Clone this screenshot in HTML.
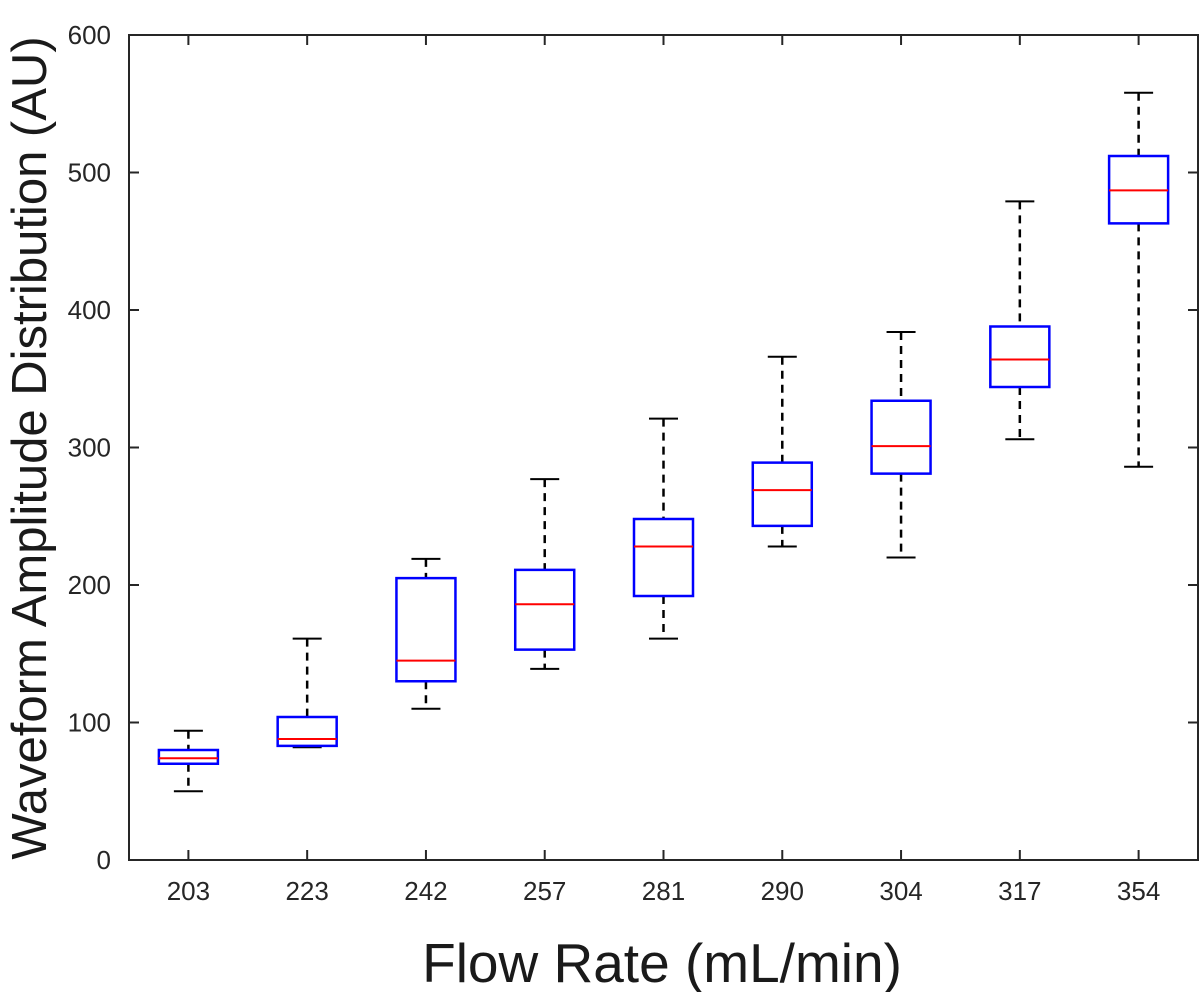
<!DOCTYPE html>
<html><head><meta charset="utf-8"><style>
html,body{margin:0;padding:0;background:#fff;width:1200px;height:992px;overflow:hidden}
text{font-family:"Liberation Sans",Arial,sans-serif}
</style></head><body>
<svg id="chart" width="1200" height="992" viewBox="0 0 1200 992" xmlns="http://www.w3.org/2000/svg">
<rect x="0" y="0" width="1200" height="992" fill="#fff"/>
<g id="plot"></g>
<text x="662" y="982" font-size="55" text-anchor="middle" fill="#1a1a1a">Flow Rate (mL/min)</text>
<text transform="translate(46,448) rotate(-90)" font-size="49" text-anchor="middle" fill="#1a1a1a">Waveform Amplitude Distribution (AU)</text>
</svg>
<script>
const categories = ["203","223","242","257","281","290","304","317","354"];
const lowerWhisker = [50,82,110,139,161,228,220,306,286];
const q1Values = [70,83,130,153,192,243,281,344,463];
const medianValues = [74,88,145,186,228,269,301,364,487];
const q3Values = [80,104,205,211,248,289,334,388,512];
const upperWhisker = [94,161,219,277,321,366,384,479,558];
const yTicks = [0,100,200,300,400,500,600];

const L=129,R=1198,T=35,B=860;
const yMax=600;
function yScale(v){return B-(v/yMax)*(B-T);}
function xScale(i){return L+(i+0.5)*(R-L)/categories.length;}
const NS="http://www.w3.org/2000/svg";
const g=document.getElementById('plot');
function mk(tag,attrs){const e=document.createElementNS(NS,tag);for(const k in attrs)e.setAttribute(k,attrs[k]);g.appendChild(e);return e;}

const frame=mk('rect',{x:L,y:T,width:R-L,height:B-T,fill:'none',stroke:'#262626','stroke-width':2});



yTicks.forEach(v=>{
  const y=yScale(v);
  const t=mk('line',{x1:L,x2:L+10,y1:y,y2:y,stroke:'#262626','stroke-width':2});
  
  
  const tr=mk('line',{x1:R-10,x2:R,y1:y,y2:y,stroke:'#262626','stroke-width':2});
  
  
  const lb=mk('text',{x:L-18,y:y+9,'font-size':26,'text-anchor':'end',fill:'#262626'});
  lb.textContent=v;
  
  
});

const hw=29.5, cw=14.5;
categories.forEach((c,i)=>{
  const x=xScale(i);
  const tb=mk('line',{x1:x,x2:x,y1:B,y2:B-10,stroke:'#262626','stroke-width':2});
  
  
  const tt=mk('line',{x1:x,x2:x,y1:T,y2:T+10,stroke:'#262626','stroke-width':2});
  
  
  const lb=mk('text',{x:x,y:B+40,'font-size':26,'text-anchor':'middle',fill:'#262626'});
  lb.textContent=c;
  
  

  const w1=mk('line',{x1:x,x2:x,y1:yScale(upperWhisker[i]),y2:yScale(q3Values[i]),stroke:'#000','stroke-width':2.5,'stroke-dasharray':'8,6'});
  
  
  const w2=mk('line',{x1:x,x2:x,y1:yScale(q1Values[i]),y2:yScale(lowerWhisker[i]),stroke:'#000','stroke-width':2.5,'stroke-dasharray':'8,6'});
  
  
  const c1=mk('line',{x1:x-cw,x2:x+cw,y1:yScale(upperWhisker[i]),y2:yScale(upperWhisker[i]),stroke:'#000','stroke-width':2});
  
  
  const c2=mk('line',{x1:x-cw,x2:x+cw,y1:yScale(lowerWhisker[i]),y2:yScale(lowerWhisker[i]),stroke:'#000','stroke-width':2});
  
  
  const bx=mk('rect',{x:x-hw,y:yScale(q3Values[i]),width:2*hw,height:yScale(q1Values[i])-yScale(q3Values[i]),fill:'#fff',stroke:'#0000ff','stroke-width':2.5});
  
  
  const md=mk('line',{x1:x-hw,x2:x+hw,y1:yScale(medianValues[i]),y2:yScale(medianValues[i]),stroke:'#ff0000','stroke-width':2});
  
  
});
</script>
</body></html>
